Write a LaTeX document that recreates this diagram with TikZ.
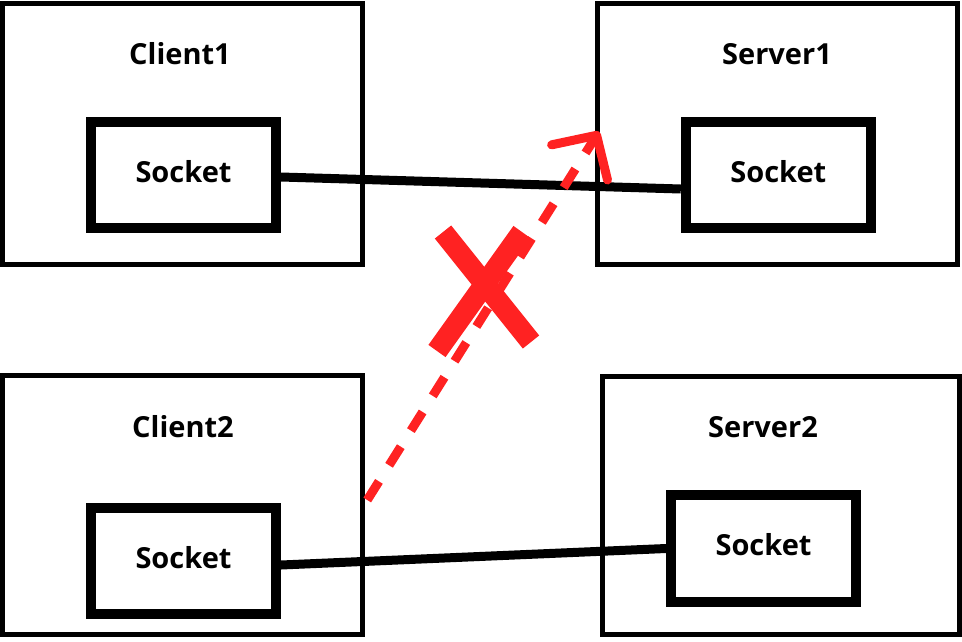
\documentclass[tikz,border=0pt]{standalone}
\usepackage{fontspec}
\setmainfont{Open Sans}
\usepackage{tikz}
\usetikzlibrary{arrows.meta}
\definecolor{xred}{RGB}{255,34,34}

\begin{document}
\begin{tikzpicture}[
  x=1pt, y=-1pt,
  host/.style={draw, line width=5pt, minimum width=360pt, minimum height=261pt, inner sep=0pt},
  sock/.style={draw, line width=10pt, minimum width=185pt, minimum height=106pt, inner sep=0pt, text depth=8pt, font=\fontsize{29}{34}\selectfont\bfseries},
  lab/.style={font=\fontsize{29}{34}\selectfont\bfseries},
  wire/.style={line width=9pt},
  fail/.style={xred, line width=9pt, dash pattern=on 22pt off 19pt, -{Straight Barb[length=32pt, width=66pt, line width=9pt, round]}},
  xmark/.style={xred, line width=21pt}
]
\useasboundingbox (0,0) rectangle (962,641);
% hosts
\node[host] (client1) at (182.75,133.5) {};
\node[host] (server1) at (777.5,133.5) {};
\node[host, minimum height=259pt] (client2) at (182.75,505) {};
\node[host, minimum width=357pt, minimum height=258pt] (server2) at (780.5,505) {};
\node[lab] (client1name) at (180,54) {Client1};
\node[lab] (server1name) at (777,54) {Server1};
\node[lab] (client2name) at (183,427) {Client2};
\node[lab] (server2name) at (763,427) {Server2};
% sockets
\node[sock] (client1sock) at (183.5,175) {Socket};
\node[sock] (server1sock) at (778.3,175) {Socket};
\node[sock] (client2sock) at (183.5,561) {Socket};
\node[sock, minimum height=107pt] (server2sock) at (763.5,548.5) {Socket};
\draw[wire] ([yshift=-2pt]client1sock.east) -- ([yshift=-14pt]server1sock.west);
\draw[wire] ([yshift=-4pt]client2sock.east) -- (server2sock.west);
% broken connection
\draw[fail] ([xshift=2pt,yshift=5pt]client2.east) -- ([xshift=4pt,yshift=2pt]server1.west);
\draw[xmark] (443,232) -- (531,342);
\draw[xmark] (437,351) -- (522,232);
\end{tikzpicture}
\end{document}
